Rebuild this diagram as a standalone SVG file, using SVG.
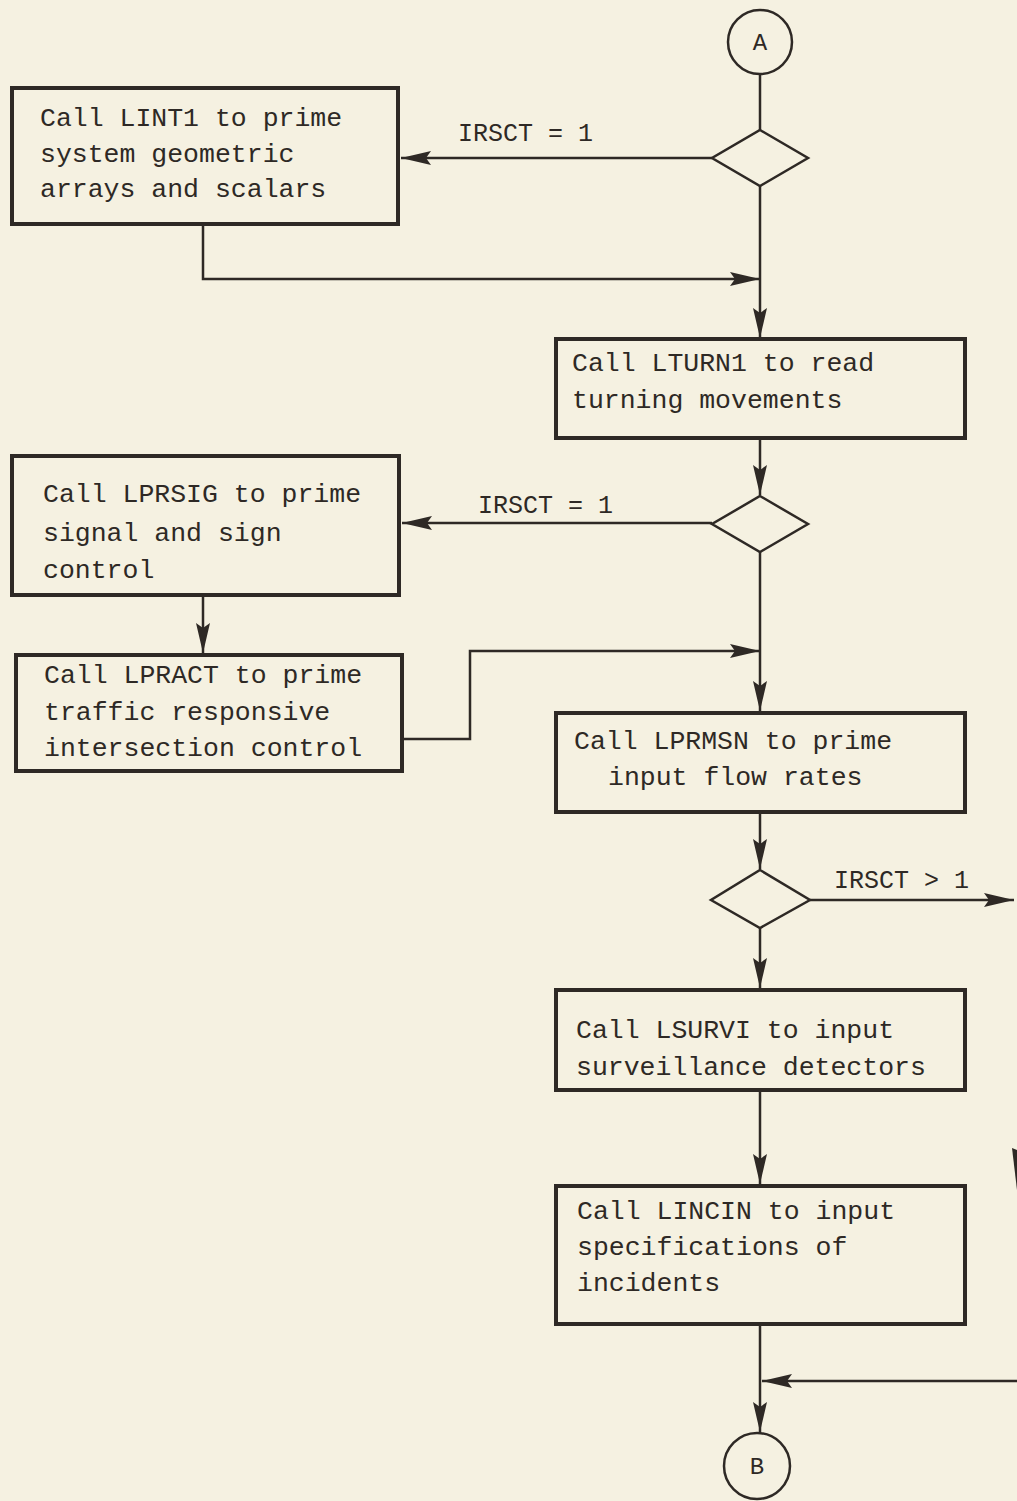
<svg xmlns="http://www.w3.org/2000/svg" width="1017" height="1501" viewBox="0 0 1017 1501">
<style>
.bg{fill:#f5f1e1}
.box{fill:none;stroke:#2e2925;stroke-width:4}
.dec{fill:none;stroke:#2e2925;stroke-width:2.5}
.con{fill:none;stroke:#2e2925;stroke-width:2.5}
.t{font-family:"Liberation Mono","DejaVu Sans Mono",monospace;font-size:26.5px;fill:#2e2925}
.lbl{font-family:"Liberation Mono","DejaVu Sans Mono",monospace;font-size:25px;fill:#2e2925}
.c{font-family:"Liberation Mono","DejaVu Sans Mono",monospace;font-size:24px;fill:#2e2925;text-anchor:middle}
</style>
<defs>
<marker id="ah" markerUnits="userSpaceOnUse" markerWidth="32" markerHeight="16" refX="30" refY="7" orient="auto">
<path d="M0,0 L30,7 L0,14 L5,7 z" fill="#2e2925"/>
</marker>
</defs>
<rect class="bg" x="0" y="0" width="1017" height="1501"/>

<g id="connectors">
<path class="con" d="M760,74 V130"/>
<path class="con" d="M712,158 H401" marker-end="url(#ah)"/>
<path class="con" d="M203,224 V279 H760" marker-end="url(#ah)"/>
<path class="con" d="M760,186 V338" marker-end="url(#ah)"/>
<path class="con" d="M760,438 V495" marker-end="url(#ah)"/>
<path class="con" d="M712,523 H402" marker-end="url(#ah)"/>
<path class="con" d="M203,595 V653" marker-end="url(#ah)"/>
<path class="con" d="M402,739 H470 V651 H760" marker-end="url(#ah)"/>
<path class="con" d="M760,552 V711" marker-end="url(#ah)"/>
<path class="con" d="M760,812 V869" marker-end="url(#ah)"/>
<path class="con" d="M810,900 H1014" marker-end="url(#ah)"/>
<path class="con" d="M760,928 V988" marker-end="url(#ah)"/>
<path class="con" d="M760,1090 V1184" marker-end="url(#ah)"/>
<path class="con" d="M760,1324 V1432" marker-end="url(#ah)"/>
<path class="con" d="M1017,1381 H762" marker-end="url(#ah)"/>
<path d="M1012,1148 L1017,1150 L1017,1190 z" fill="#2e2925"/>
<text class="lbl" x="458" y="141">IRSCT = 1</text>
<text class="lbl" x="478" y="513">IRSCT = 1</text>
<text class="lbl" x="834" y="888">IRSCT &gt; 1</text>
</g>

<g id="connA">
<circle class="dec" cx="760" cy="42" r="32"/>
<text class="c" x="760" y="50">A</text>
</g>
<g id="dec1"><polygon class="dec" points="760,130 808,158 760,186 712,158"/></g>
<g id="box1">
<rect class="box" x="12" y="88" width="386" height="136"/>
<text class="t" x="40" y="126">Call LINT1 to prime</text>
<text class="t" x="40" y="162">system geometric</text>
<text class="t" x="40" y="197">arrays and scalars</text>
</g>
<g id="box2">
<rect class="box" x="556" y="339" width="409" height="99"/>
<text class="t" x="572" y="371">Call LTURN1 to read</text>
<text class="t" x="572" y="408">turning movements</text>
</g>
<g id="dec2"><polygon class="dec" points="760,496 808,524 760,552 712,524"/></g>
<g id="box3">
<rect class="box" x="12" y="456" width="387" height="139"/>
<text class="t" x="43" y="502">Call LPRSIG to prime</text>
<text class="t" x="43" y="541">signal and sign</text>
<text class="t" x="43" y="578">control</text>
</g>
<g id="box4">
<rect class="box" x="16" y="655" width="386" height="116"/>
<text class="t" x="44" y="683">Call LPRACT to prime</text>
<text class="t" x="44" y="720">traffic responsive</text>
<text class="t" x="44" y="756">intersection control</text>
</g>
<g id="box5">
<rect class="box" x="556" y="713" width="409" height="99"/>
<text class="t" x="574" y="749">Call LPRMSN to prime</text>
<text class="t" x="608" y="785">input flow rates</text>
</g>
<g id="dec3"><polygon class="dec" points="760,870 810,900 760,928 711,900"/></g>
<g id="box6">
<rect class="box" x="556" y="990" width="409" height="100"/>
<text class="t" x="576" y="1038">Call LSURVI to input</text>
<text class="t" x="576" y="1075">surveillance detectors</text>
</g>
<g id="box7">
<rect class="box" x="556" y="1186" width="409" height="138"/>
<text class="t" x="577" y="1219">Call LINCIN to input</text>
<text class="t" x="577" y="1255">specifications of</text>
<text class="t" x="577" y="1291">incidents</text>
</g>
<g id="connB">
<circle class="dec" cx="757" cy="1466" r="33"/>
<text class="c" x="757" y="1474">B</text>
</g>
</svg>
